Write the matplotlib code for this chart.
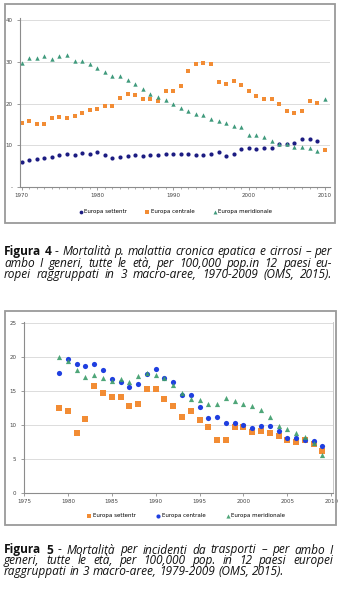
import numpy as np
import matplotlib
matplotlib.use("Agg")
import matplotlib.pyplot as plt
from matplotlib.patches import Rectangle

W, H = 344, 598

# Figura 4 - liver disease / cirrhosis mortality, 1970-2010
years4 = list(range(1970, 2011))
settentr4 = [5.9, 6.4, 6.8, 7.0, 7.1, 7.7, 8.0, 7.7, 8.2, 8.0,
             8.3, 7.6, 6.9, 7.3, 7.4, 7.7, 7.5, 7.6, 7.7, 8.0,
             7.9, 7.9, 8.0, 7.6, 7.7, 7.9, 8.3, 7.5, 7.8, 9.0,
             9.3, 9.1, 9.4, 9.3, 10.3, 10.4, 10.6, 11.4, 11.4, 11.0,
             np.nan]
centrale4 = [15.4, 15.7, 15.2, 15.2, 16.5, 16.7, 16.5, 17.1, 17.8, 18.4,
             18.6, 19.4, 19.3, 21.3, 22.3, 22.0, 21.2, 21.2, 20.7, 23.0,
             22.9, 24.2, 27.7, 29.4, 29.7, 29.5, 25.2, 24.6, 25.3, 24.5,
             23.1, 21.8, 21.0, 21.1, 20.0, 18.2, 17.8, 18.2, 20.6, 20.2,
             8.9]
meridionale4 = [29.8, 31.0, 31.0, 31.5, 30.6, 31.4, 31.6, 30.2, 30.2, 29.5,
                28.5, 27.6, 26.6, 26.5, 25.6, 24.7, 23.6, 22.2, 21.6, 20.9,
                19.8, 19.0, 18.3, 17.6, 17.2, 16.3, 15.8, 15.3, 14.7, 14.3,
                12.5, 12.4, 12.0, 11.0, 10.4, 10.4, 9.7, 9.6, 9.3, 8.6,
                21.2]

# Figura 5 - transport accident mortality, 1979-2009
years5 = list(range(1979, 2010))
settentr5 = [12.6, 12.1, 8.9, 11.0, 15.8, 14.7, 14.1, 14.1, 12.9, 13.1,
             15.4, 15.4, 13.8, 12.8, 11.2, 12.1, 10.8, 9.8, 7.9, 7.9,
             9.8, 9.8, 9.0, 9.2, 8.8, 8.5, 7.9, 7.5, 7.8, 7.2, 6.2]
centrale5 = [17.7, 19.8, 19.0, 18.8, 19.0, 18.1, 16.8, 16.3, 15.7, 16.1,
             17.6, 18.3, 17.0, 16.4, 14.4, 14.4, 12.7, 11.1, 11.2, 10.3,
             10.3, 10.0, 9.6, 9.9, 9.9, 9.1, 8.2, 8.1, 7.9, 7.7, 7.0]
meridionale5 = [20.0, 19.4, 18.2, 17.1, 17.4, 17.0, 16.5, 16.8, 16.4, 17.2,
                17.7, 17.4, 16.9, 15.9, 14.7, 13.8, 13.7, 13.1, 13.2, 14.0,
                13.6, 13.1, 12.8, 12.3, 11.2, 9.9, 9.5, 8.8, 8.3, 7.4, 5.6]

labels4 = ["Europa settentr", "Europa centrale", "Europa meridionale"]
labels5 = ["Europa settentr", "Europa centrale", "Europa meridionale"]

caption4 = [
    ("Figura 4", " - Mortalità p. malattia cronica epatica e cirrosi – per", True),
    ("", "ambo I generi, tutte le età, per 100,000 pop.in 12 paesi eu-", True),
    ("", "ropei raggruppati in 3 macro-aree, 1970-2009 (OMS, 2015).", True),
]
caption5 = [
    ("Figura 5", " - Mortalità per incidenti da trasporti – per ambo I", True),
    ("", "generi, tutte le età, per 100,000 pop. in 12 paesi europei", True),
    ("", "raggruppati in 3 macro-aree, 1979-2009 (OMS, 2015).", False),
]

NAVY = "#1c1c82"
ORANGE = "#f28c34"
TEAL = "#3f9a7c"
BLUE = "#1f3fe0"
GREEN = "#3c9c6a"
GRID = "#dcdcdc"
AXIS = "#8c8c8c"


def fx(px):
    return px / W


def fy(py):
    return 1 - py / H


def style_axes(ax):
    ax.set_facecolor("white")
    for s in ["top", "right"]:
        ax.spines[s].set_visible(False)
    for s in ["left", "bottom"]:
        ax.spines[s].set_color(AXIS)
        ax.spines[s].set_linewidth(0.8)
    ax.grid(axis="y", color=GRID, linewidth=0.7)
    ax.set_axisbelow(True)
    ax.tick_params(axis="both", labelsize=4, colors=AXIS, labelcolor="#444444",
                   length=2, width=0.6, pad=2)
    ax.tick_params(axis="y", pad=3.5)
    ax.tick_params(axis="x", which="minor", length=1.5, width=0.5, colors=AXIS)


def line_words(bold, rest):
    words = []
    if bold:
        words += [(w, "bold", "normal") for w in bold.split()]
    for w in rest.split():
        words.append((w, "normal", "normal" if w == "-" else "italic"))
    return words


def measure(fig, renderer, words, size, fam):
    out = []
    for w, wt, st in words:
        t = fig.text(0, 0, w, fontsize=size, family=fam, fontweight=wt, fontstyle=st)
        out.append(t.get_window_extent(renderer).width)
        t.remove()
    a = fig.text(0, 0, "a a", fontsize=size, family=fam, fontstyle="italic")
    b = fig.text(0, 0, "aa", fontsize=size, family=fam, fontstyle="italic")
    sp = a.get_window_extent(renderer).width - b.get_window_extent(renderer).width
    a.remove()
    b.remove()
    return out, sp


def place_caption(fig, lines, top_px, lh_px, x0_px, x1_px, size):
    renderer = fig.canvas.get_renderer()
    fam = "Open Sans"
    target = x1_px - x0_px
    for i, (bold, rest, justify) in enumerate(lines):
        words = line_words(bold, rest)
        fs = size
        widths, sp = measure(fig, renderer, words, fs, fam)
        natural = sum(widths) + 0.7 * sp * (len(words) - 1)
        if natural > target:
            fs = size * target / natural
            widths, sp = measure(fig, renderer, words, fs, fam)
        if justify and len(words) > 1:
            gap = (target - sum(widths)) / (len(words) - 1)
        else:
            gap = sp
        x = x0_px
        y = fy(top_px + i * lh_px)
        for (w, wt, st), wd in zip(words, widths):
            fig.text(fx(x), y, w, fontsize=fs, family=fam, fontweight=wt,
                     fontstyle=st, va="center", ha="left", color="#111111")
            x += wd + gap


fig = plt.figure(figsize=(W / 100, H / 100), dpi=100)
fig.patch.set_facecolor("white")

# chart frames
for (x0, y0, x1, y1) in [(5, 4, 335, 223), (5, 311, 336, 525)]:
    fig.patches.append(Rectangle((fx(x0), fy(y1)), fx(x1 - x0), (y1 - y0) / H,
                                 transform=fig.transFigure, fill=False,
                                 edgecolor="#9a9a9a", linewidth=1.3))

# ---- Figura 4 chart
ax1 = fig.add_axes([fx(20), fy(187), fx(330 - 20), (187 - 18) / H])
style_axes(ax1)
ax1.scatter(years4, settentr4, s=9, marker="o", color=NAVY, linewidths=0, label=labels4[0])
ax1.scatter(years4, centrale4, s=9, marker="s", color=ORANGE, linewidths=0, label=labels4[1])
ax1.scatter(years4, meridionale4, s=10, marker="^", color=TEAL, linewidths=0, label=labels4[2])
ax1.set_xlim(1969.8, 2010.7)
ax1.set_ylim(0, 40.5)
ax1.set_yticks([0, 10, 20, 30, 40])
ax1.set_yticklabels(["-", "10", "20", "30", "40"])
ax1.set_xticks([1970, 1980, 1990, 2000, 2010])
ax1.set_xticks(range(1970, 2011), minor=True)
ax1.legend(loc="center", bbox_to_anchor=(fx(175), fy(212)), bbox_transform=fig.transFigure,
           ncol=3, frameon=False, fontsize=4, handletextpad=0.1, columnspacing=3.2,
           markerscale=0.9, handlelength=1)

# ---- Figura 5 chart
ax2 = fig.add_axes([fx(24), fy(493.3), fx(333 - 24), (493.3 - 322) / H])
style_axes(ax2)
ax2.spines["right"].set_visible(True)
ax2.spines["right"].set_color("#c8c8c8")
ax2.spines["right"].set_linewidth(0.7)
ax2.scatter(years5, settentr5, s=13, marker="s", color=ORANGE, linewidths=0, label=labels5[0])
ax2.scatter(years5, centrale5, s=14, marker="o", color=BLUE, linewidths=0, label=labels5[1])
ax2.scatter(years5, meridionale5, s=14, marker="^", color=GREEN, linewidths=0, alpha=0.9,
            label=labels5[2])
ax2.set_xlim(1975, 2010.2)
ax2.set_ylim(0, 25.2)
ax2.set_yticks([0, 5, 10, 15, 20, 25])
ax2.set_xticks(range(1975, 2011, 5))
ax2.legend(loc="center", bbox_to_anchor=(fx(186), fy(516)), bbox_transform=fig.transFigure,
           ncol=3, frameon=False, fontsize=4, handletextpad=0.1, columnspacing=3.6,
           markerscale=0.8, handlelength=1)

# captions
place_caption(fig, caption4, 252, 11.2, 4, 332, 8.6)
place_caption(fig, caption5, 550, 10.6, 4, 333, 8.6)

fig.savefig("out.png", dpi=100)
